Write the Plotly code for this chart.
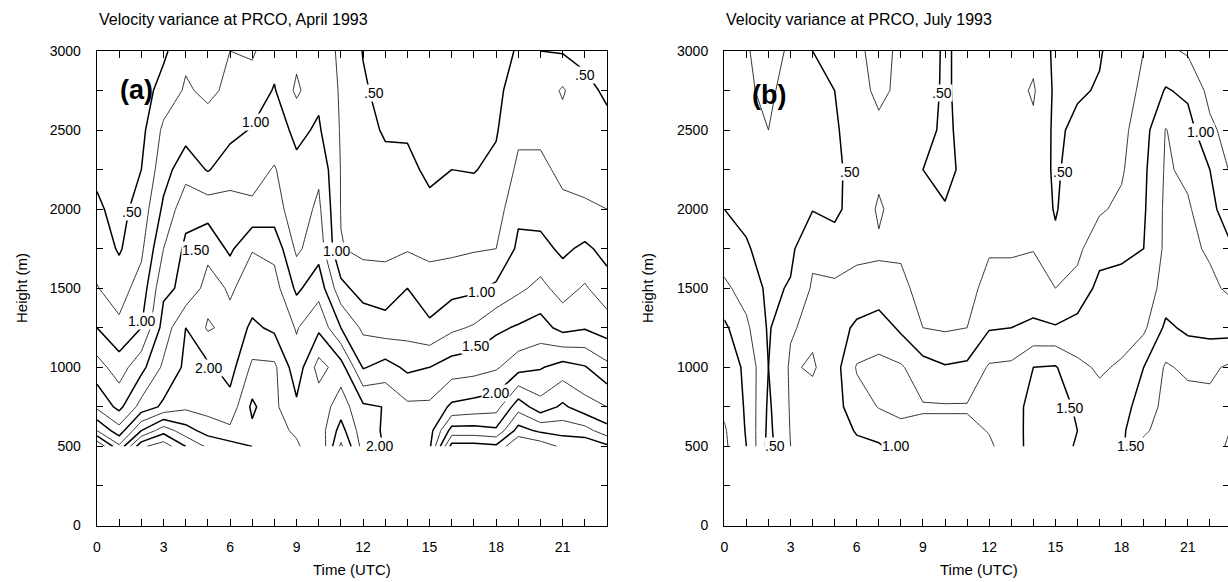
import plotly.graph_objects as go

# ---------------- data ----------------
hours = list(range(24))
heights = [500, 600, 750, 1000, 1250, 1500, 1750, 2000, 2250, 2500, 2750, 3000]

# velocity variance, one list per hour (values at the heights above)
april_by_hour = [
    [3.00, 2.25, 1.70, 1.35, 1.00, 0.76, 0.66, 0.54, 0.45, 0.40, 0.35, 0.30],
    [2.30, 1.85, 1.43, 1.13, 0.80, 0.65, 0.47, 0.42, 0.38, 0.35, 0.33, 0.30],
    [3.20, 2.50, 1.85, 1.42, 1.00, 0.85, 0.70, 0.60, 0.50, 0.43, 0.38, 0.35],
    [3.40, 2.90, 2.05, 1.80, 1.60, 1.45, 1.25, 1.05, 0.90, 0.80, 0.60, 0.45],
    [3.00, 2.60, 2.20, 2.05, 2.00, 1.55, 1.55, 1.42, 1.15, 0.90, 0.78, 0.70],
    [2.70, 2.40, 2.15, 2.05, 1.72, 1.85, 1.68, 1.40, 0.98, 0.85, 0.70, 0.65],
    [2.60, 2.30, 2.10, 1.90, 1.82, 1.72, 1.45, 1.34, 1.15, 0.92, 0.80, 0.75],
    [2.50, 2.45, 2.55, 2.30, 2.05, 1.85, 1.74, 1.30, 1.15, 1.02, 0.85, 0.72],
    [2.40, 2.35, 2.30, 2.30, 1.95, 1.85, 1.68, 1.35, 1.27, 1.10, 1.02, 0.90],
    [2.30, 2.20, 2.05, 1.85, 1.73, 1.45, 1.20, 1.12, 1.05, 0.95, 0.70, 0.82],
    [2.00, 2.10, 2.10, 2.35, 1.95, 1.65, 1.40, 1.30, 1.20, 1.03, 0.95, 0.90],
    [2.80, 2.60, 2.38, 2.12, 1.50, 1.08, 0.76, 0.74, 0.74, 0.73, 0.72, 0.70],
    [2.15, 2.10, 2.05, 1.48, 1.20, 0.88, 0.70, 0.65, 0.60, 0.56, 0.53, 0.49],
    [1.98, 1.97, 1.99, 1.60, 1.12, 0.85, 0.70, 0.62, 0.55, 0.48, 0.42, 0.38],
    [1.90, 1.88, 1.80, 1.45, 1.15, 1.00, 0.73, 0.62, 0.56, 0.47, 0.42, 0.38],
    [1.95, 1.90, 1.80, 1.50, 1.05, 0.85, 0.70, 0.56, 0.45, 0.42, 0.40, 0.38],
    [3.10, 2.60, 2.05, 1.62, 1.20, 0.92, 0.70, 0.58, 0.50, 0.45, 0.42, 0.40],
    [3.10, 2.60, 2.10, 1.65, 1.28, 0.95, 0.73, 0.60, 0.49, 0.45, 0.42, 0.40],
    [3.05, 2.55, 2.15, 1.72, 1.45, 1.05, 0.75, 0.63, 0.55, 0.48, 0.45, 0.42],
    [3.50, 3.10, 2.65, 1.90, 1.53, 1.20, 1.05, 0.95, 0.80, 0.70, 0.60, 0.52],
    [3.40, 2.95, 2.35, 1.98, 1.60, 1.32, 1.08, 0.90, 0.80, 0.70, 0.60, 0.50],
    [3.20, 2.90, 2.55, 2.10, 1.42, 1.15, 0.95, 0.80, 0.70, 0.65, 0.78, 0.48],
    [3.20, 2.85, 2.35, 2.02, 1.48, 1.28, 1.05, 0.77, 0.70, 0.62, 0.55, 0.45],
    [3.05, 2.60, 2.25, 1.82, 1.38, 1.10, 0.92, 0.75, 0.62, 0.55, 0.47, 0.42],
]

july_by_hour = [
    [1.30, 1.28, 1.20, 1.15, 1.05, 0.80, 0.62, 0.50, 0.42, 0.38, 0.35, 0.35],
    [1.00, 0.98, 0.97, 0.95, 0.80, 0.65, 0.52, 0.45, 0.40, 0.32, 0.27, 0.26],
    [0.42, 0.44, 0.46, 0.50, 0.47, 0.45, 0.42, 0.40, 0.33, 0.25, 0.22, 0.20],
    [0.75, 0.76, 0.77, 0.78, 0.73, 0.52, 0.45, 0.42, 0.40, 0.36, 0.31, 0.27],
    [0.80, 0.82, 0.85, 0.72, 0.80, 0.78, 0.70, 0.49, 0.47, 0.45, 0.47, 0.50],
    [0.85, 0.88, 0.90, 0.90, 0.88, 0.80, 0.60, 0.45, 0.44, 0.46, 0.50, 0.55],
    [0.95, 1.02, 1.15, 1.27, 1.05, 0.82, 0.70, 0.60, 0.60, 0.65, 0.70, 0.72],
    [0.97, 1.10, 1.26, 1.30, 1.15, 0.82, 0.72, 0.78, 0.70, 0.72, 0.78, 0.80],
    [1.10, 1.20, 1.30, 1.28, 0.95, 0.80, 0.72, 0.65, 0.66, 0.70, 0.72, 0.72],
    [1.15, 1.20, 1.27, 1.10, 0.75, 0.68, 0.65, 0.60, 0.50, 0.60, 0.65, 0.68],
    [1.15, 1.20, 1.27, 1.02, 0.72, 0.65, 0.60, 0.52, 0.42, 0.44, 0.45, 0.45],
    [1.15, 1.20, 1.27, 1.05, 0.75, 0.65, 0.62, 0.60, 0.58, 0.60, 0.62, 0.62],
    [1.22, 1.26, 1.32, 1.28, 0.98, 0.85, 0.72, 0.62, 0.58, 0.56, 0.58, 0.60],
    [1.35, 1.38, 1.40, 1.30, 1.00, 0.85, 0.72, 0.63, 0.60, 0.62, 0.65, 0.66],
    [1.62, 1.60, 1.58, 1.50, 1.04, 0.88, 0.74, 0.66, 0.65, 0.70, 0.78, 0.68],
    [1.70, 1.70, 1.65, 1.52, 1.02, 0.75, 0.55, 0.48, 0.46, 0.45, 0.45, 0.45],
    [1.45, 1.50, 1.45, 1.30, 1.10, 0.82, 0.70, 0.65, 0.62, 0.56, 0.47, 0.42],
    [1.35, 1.35, 1.33, 1.22, 1.12, 1.08, 0.90, 0.72, 0.65, 0.60, 0.52, 0.48],
    [1.45, 1.45, 1.40, 1.28, 1.15, 1.08, 0.95, 0.80, 0.72, 0.68, 0.65, 0.62],
    [1.80, 1.72, 1.62, 1.50, 1.20, 1.10, 1.00, 0.97, 0.95, 0.90, 0.80, 0.75],
    [1.85, 1.83, 1.82, 1.78, 1.55, 1.35, 1.30, 1.30, 1.28, 1.26, 1.02, 0.80],
    [1.90, 1.88, 1.85, 1.70, 1.45, 1.35, 1.30, 1.28, 1.20, 1.10, 0.95, 0.72],
    [1.85, 1.85, 1.82, 1.70, 1.42, 1.30, 1.22, 1.10, 1.00, 0.80, 0.68, 0.60],
    [1.70, 1.74, 1.78, 1.80, 1.40, 1.20, 1.02, 0.78, 0.70, 0.65, 0.60, 0.55],
]

x_tick_vals = list(range(24))
x_tick_text = [str(h) if h % 3 == 0 else "" for h in x_tick_vals]
y_tick_vals = list(range(0, 3001, 250))
y_tick_text = [str(v) if v % 500 == 0 else "" for v in y_tick_vals]

panel_titles = ["Velocity variance at PRCO, April 1993", "Velocity variance at PRCO, July 1993"]
panel_tags = ["(a)", "(b)"]

# contour labels: (text, hour, height)
april_labels = [(".50", 1.56, 1985), ("1.00", 7.13, 2553), (".50", 12.47, 2732), (".50", 22.0, 2848),
                ("1.50", 4.42, 1742), ("1.00", 10.8, 1738), ("1.00", 2.0, 1290), ("1.00", 17.35, 1479),
                ("1.50", 17.05, 1132), ("2.00", 5.02, 995), ("2.00", 17.95, 837), ("2.00", 12.75, 500)]
july_labels = [(".50", 9.85, 2732), (".50", 5.7, 2237), (".50", 15.36, 2237), ("1.00", 21.56, 2490),
               ("1.50", 15.66, 740), (".50", 2.3, 500), ("1.00", 7.75, 500), ("1.50", 18.4, 500)]

# ---------------- figure ----------------
FONT = "Liberation Sans, Arial, Helvetica, sans-serif"
W, H = 1228, 582


def rows(cols):
    return [list(r) for r in zip(*cols)]


fig = go.Figure()
for cols, xa, ya in [(april_by_hour, "x", "y"), (july_by_hour, "x2", "y2")]:
    z = rows(cols)
    fig.add_trace(go.Contour(
        x=hours, y=heights, z=z, xaxis=xa, yaxis=ya, showscale=False, hoverinfo="skip",
        contours=dict(coloring="none", start=0.25, end=4.75, size=0.5),
        line=dict(color="black", width=0.8, smoothing=0)))
    fig.add_trace(go.Contour(
        x=hours, y=heights, z=z, xaxis=xa, yaxis=ya, showscale=False, hoverinfo="skip",
        contours=dict(coloring="none", start=0.5, end=5.0, size=0.5),
        line=dict(color="black", width=1.5, smoothing=0)))

# empty trace so the right-hand tick axis of panel (b) is drawn
fig.add_trace(go.Scatter(x=[None], y=[None], xaxis="x2", yaxis="y3", mode="markers",
                         showlegend=False, hoverinfo="skip"))

px_x = lambda p: p / W
px_y = lambda p: (H - p) / H

common_x = dict(range=[0, 23], tickvals=x_tick_vals, ticktext=x_tick_text, ticks="inside",
                ticklen=7, tickwidth=1, tickcolor="black", showline=True, linecolor="black",
                linewidth=1.3, showgrid=False, zeroline=False, automargin=False,
                tickfont=dict(family=FONT, size=14, color="black"), ticklabelstandoff=8)
common_y = dict(range=[0, 3000], tickvals=y_tick_vals, ticktext=y_tick_text, ticks="inside",
                ticklen=6, tickwidth=1, tickcolor="black", showline=True, linecolor="black",
                linewidth=1.3, showgrid=False, zeroline=False, automargin=False,
                tickfont=dict(family=FONT, size=14, color="black"), ticklabelstandoff=12)

ydom = [px_y(525.5), px_y(51)]
fig.update_layout(
    width=W, height=H, autosize=False, margin=dict(l=0, r=0, t=0, b=0, pad=0),
    paper_bgcolor="white", plot_bgcolor="white", showlegend=False,
    xaxis=dict(common_x, domain=[px_x(97), px_x(607)], anchor="y", mirror="ticks"),
    yaxis=dict(common_y, domain=ydom, anchor="x", mirror="ticks"),
    xaxis2=dict(common_x, domain=[px_x(724.3), 1.0], anchor="y2", mirror="ticks", range=[0, 22.82]),
    yaxis2=dict(common_y, domain=ydom, anchor="x2"),
    yaxis3=dict(range=[0, 3000], tickvals=y_tick_vals, ticks="inside", ticklen=5, tickcolor="black",
                showticklabels=False, showline=False, showgrid=False, zeroline=False,
                automargin=False, overlaying="y2", anchor="x2", side="right"),
)

ann = []
for i, (title, tag) in enumerate(zip(panel_titles, panel_tags)):
    x0 = [97, 724.3][i]
    ann.append(dict(text=title, xref="paper", yref="paper", x=px_x(x0), y=px_y(20),
                    xanchor="left", yanchor="middle", showarrow=False,
                    font=dict(family=FONT, size=16, color="black")))
    ann.append(dict(text="<b>%s</b>" % tag, xref=["x", "x2"][i], yref=["y", "y2"][i],
                    x=[1.76, 2.03][i], y=[2751, 2720][i], xanchor="center", yanchor="middle",
                    showarrow=False, font=dict(family=FONT, size=27, color="black")))
    ann.append(dict(text="Height (m)", xref="paper", yref="paper", x=px_x([21, 647][i]),
                    y=px_y(288), textangle=-90, xanchor="center", yanchor="middle",
                    showarrow=False, font=dict(family=FONT, size=15, color="black")))
    ann.append(dict(text="Time (UTC)", xref="paper", yref="paper", x=px_x([352, 979][i]),
                    y=px_y(569), xanchor="center", yanchor="middle",
                    showarrow=False, font=dict(family=FONT, size=15, color="black")))

for labels, xr, yr in [(april_labels, "x", "y"), (july_labels, "x2", "y2")]:
    for text, hx, hy in labels:
        ann.append(dict(text=text, x=hx, y=hy, xref=xr, yref=yr, showarrow=False,
                        xanchor="center", yanchor="middle", bgcolor="white", borderpad=0,
                        font=dict(family=FONT, size=14, color="black")))

fig.update_layout(annotations=ann)
fig.write_html("out.html", config={"displayModeBar": False, "staticPlot": True},
               post_script="document.body.style.margin='0';document.body.style.overflow='hidden';")
